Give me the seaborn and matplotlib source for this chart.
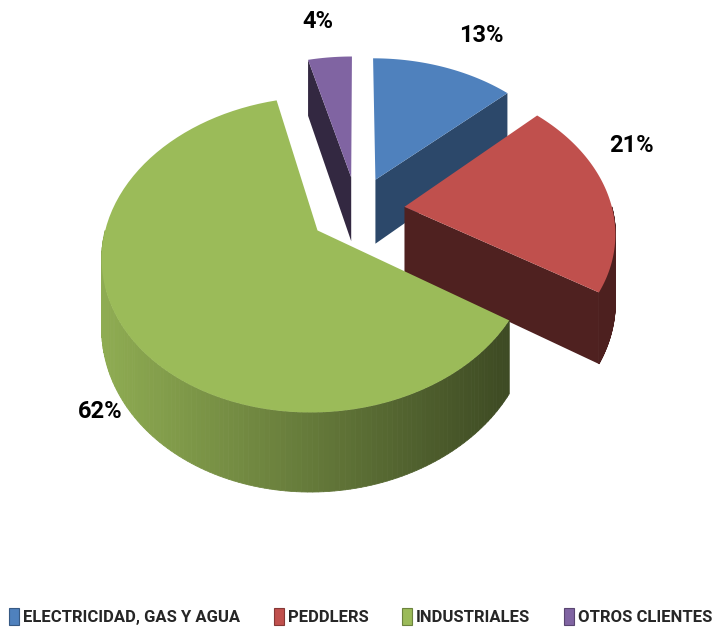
import numpy as np
import matplotlib
matplotlib.use("Agg")
import matplotlib.pyplot as plt
from matplotlib.patches import Polygon, Patch
from matplotlib.colors import to_rgb
import seaborn as sns

# Datos del grafico
categorias = ["ELECTRICIDAD, GAS Y AGUA", "PEDDLERS", "INDUSTRIALES", "OTROS CLIENTES"]
porcentajes = [13, 21, 62, 4]
etiquetas = ["13%", "21%", "62%", "4%"]
colores = ["#4F81BD", "#C0504D", "#9BBB59", "#8064A2"]

# Sombra de las caras radiales (estilo)
sombra_corte = [0.56, 0.41, 0.45, 0.40]
# Posicion de las etiquetas en pixeles
pos_etiquetas = [(481, 35), (631, 146), (100, 411), (318, 22)]

# Vista del pastel 3D, en pixeles
CX, CY = 357, 210
RX, RY = 208, 148
PERSP = 0.15
PROF = 66
EXPLODE = 0.23

sns.set_theme(style="white")
plt.rcParams["font.family"] = ["Roboto", "DejaVu Sans"]


def proyectar(u, v, abajo=False):
    den = 1 + PERSP * v
    x = CX + RX * u / den
    y = CY - RY * v / den
    if abajo:
        y = y + PROF / den
    return x, y


def sombra(color, f):
    r, g, b = to_rgb(color)
    return (r * f, g * f, b * f)


def dibujar_porcion(ax, t0, t1, color, f_corte):
    media = np.radians((t0 + t1) / 2)
    ou, ov = EXPLODE * np.sin(media), EXPLODE * np.cos(media)
    ang = np.radians(np.linspace(t0, t1, 80))
    au, av = ou + np.sin(ang), ov + np.cos(ang)

    # caras radiales visibles
    for t, signo in [(t0, -1), (t1, 1)]:
        s = np.sin(np.radians(t)) * signo
        if s > 1e-6:
            pu, pv = ou + np.sin(np.radians(t)), ov + np.cos(np.radians(t))
            pts = [proyectar(ou, ov), proyectar(pu, pv),
                   proyectar(pu, pv, True), proyectar(ou, ov, True)]
            ax.add_patch(Polygon(pts, closed=True, fc=sombra(color, f_corte),
                                 ec="none", zorder=2))

    # pared exterior (entre 90 y 270 grados), con degradado horizontal
    lo, hi = max(t0, 90), min(t1, 270)
    if hi > lo:
        tt = np.radians(np.linspace(lo, hi, 120))
        for a, b in zip(tt[:-1], tt[1:]):
            p1 = proyectar(ou + np.sin(a), ov + np.cos(a))
            p2 = proyectar(ou + np.sin(b), ov + np.cos(b))
            p3 = proyectar(ou + np.sin(b), ov + np.cos(b), True)
            p4 = proyectar(ou + np.sin(a), ov + np.cos(a), True)
            xm = (p1[0] + p2[0]) / 2
            f = np.clip(0.92 - 0.52 * (xm - 103) / 402, 0.4, 0.92)
            ax.add_patch(Polygon([p1, p2, p3, p4], closed=True,
                                 fc=sombra(color, f), ec=sombra(color, f),
                                 lw=0.6, zorder=2))

    # cara superior
    sup = [proyectar(ou, ov)] + [proyectar(u, v) for u, v in zip(au, av)]
    ax.add_patch(Polygon(sup, closed=True, fc=color, ec="none", zorder=3))


fig = plt.figure(figsize=(7.13, 6.34), dpi=100)
ax = fig.add_axes([0, 0, 1, 1])
ax.set_xlim(0, 713)
ax.set_ylim(634, 0)
ax.axis("off")

bordes = np.concatenate([[0], np.cumsum(porcentajes)]) / sum(porcentajes) * 360
# orden de pintado: del fondo hacia el frente
for i in [3, 0, 1, 2]:
    dibujar_porcion(ax, bordes[i], bordes[i + 1], colores[i], sombra_corte[i])

for txt, (x, y) in zip(etiquetas, pos_etiquetas):
    ax.text(x, y, txt, ha="center", va="center", fontsize=17,
            fontweight="bold", color="black")

handles = [Patch(facecolor=c, edgecolor=sombra(c, 0.7), lw=0.8) for c in colores]
ax.legend(handles, categorias, loc="center", bbox_to_anchor=(0.506, 0.027),
          ncol=4, frameon=False, handlelength=0.6, handleheight=1.2,
          handletextpad=0.25, columnspacing=2.0, borderpad=0.1,
          prop={"size": 12, "weight": "bold"})

fig.savefig("out.png", dpi=100)
